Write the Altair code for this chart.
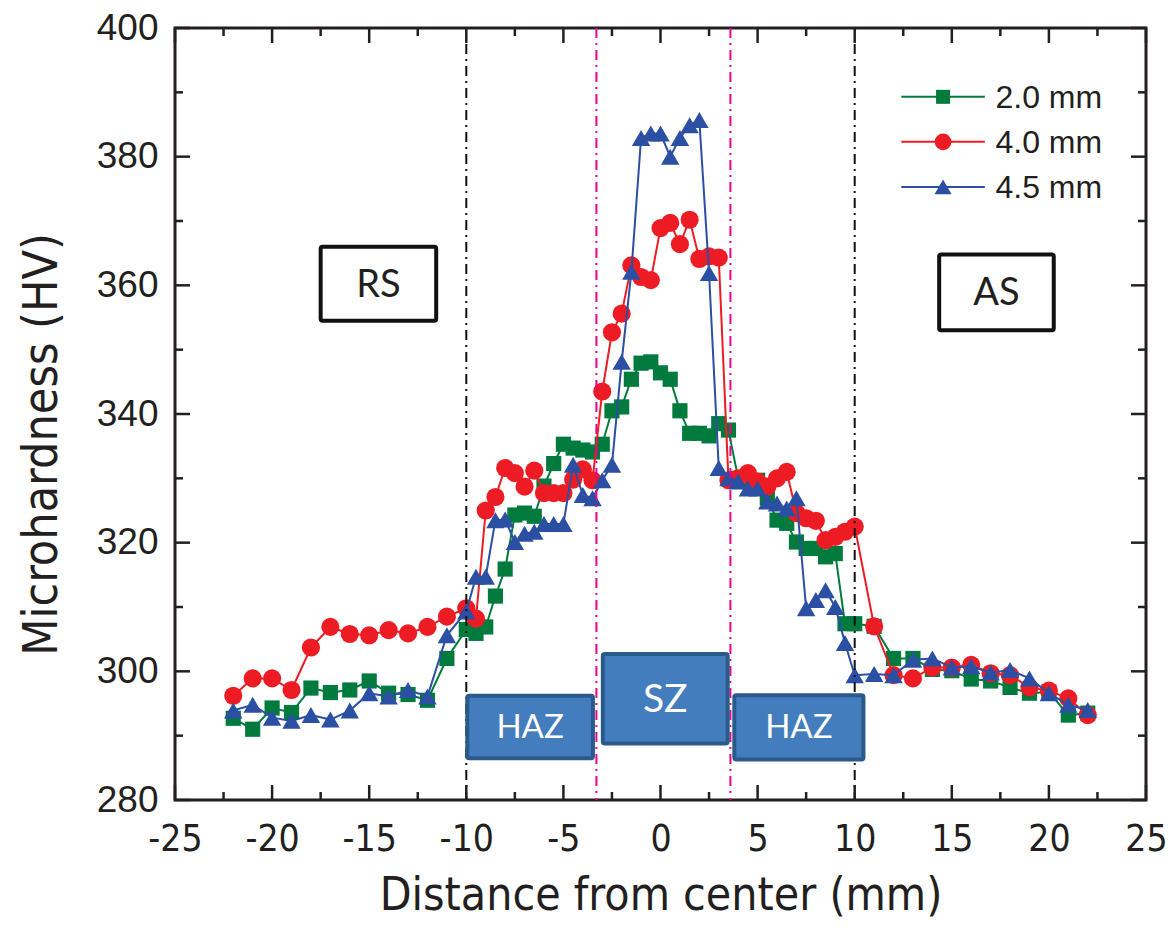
import altair as alt
import pandas as pd

# ---------------- data ----------------
series_names = ["2.0 mm", "4.0 mm", "4.5 mm"]
series_colors = ["#007A3D", "#ED1C24", "#2B4FA2"]
series_shapes = ["square", "circle", "triangle-up"]
series_sizes = [230, 330, 340]

x_outer_left = [-22, -21, -20, -19, -18, -17, -16, -15, -14, -13, -12, -11]
x_center = [-10, -9.5, -9, -8.5, -8, -7.5, -7, -6.5, -6, -5.5, -5, -4.5, -4, -3.5, -3,
            -2.5, -2, -1.5, -1, -0.5, 0, 0.5, 1, 1.5, 2, 2.5, 3, 3.5, 4, 4.5, 5,
            5.5, 6, 6.5, 7, 7.5, 8, 8.5, 9, 9.5, 10]
x_outer_right = [11, 12, 13, 14, 15, 16, 17, 18, 19, 20, 21, 22]
x_all = x_outer_left + x_center + x_outer_right

hv_20 = [292.7, 291.0, 294.3, 293.6, 297.4, 296.7, 297.1, 298.5, 296.6, 296.4, 295.5, 302.0,
         306.5, 305.9, 306.9, 311.7, 315.9, 324.3, 324.6, 324.1, 328.8, 332.3, 335.3, 334.7,
         334.4, 334.1, 335.3, 340.5, 341.1, 345.4, 347.9, 348.1, 346.4, 345.4, 340.5, 337.0,
         337.0, 336.6, 338.5, 337.5, 330.0, 329.5, 329.7, 327.0, 323.5, 323.0, 320.1, 319.1,
         319.1, 317.8, 318.3, 307.4, 307.4,
         307.0, 302.0, 302.0, 300.3, 300.1, 298.8, 298.5, 297.5, 296.6, 296.8, 293.2, 293.5]

hv_40 = [296.2, 298.9, 298.9, 297.1, 303.7, 306.9, 305.8, 305.6, 306.4, 305.9, 306.9, 308.5,
         309.8, 308.2, 325.0, 327.1, 331.6, 330.8, 328.7, 331.2, 327.7, 327.7, 327.7, 329.8,
         331.4, 329.7, 343.5, 352.7, 355.6, 363.1, 361.3, 360.8, 368.9, 369.7, 366.4, 370.2,
         364.1, 364.5, 364.3, 329.7, 330.0, 330.8, 329.5, 328.7, 330.0, 331.0, 324.6, 323.8,
         323.4, 320.4, 320.9, 321.7, 322.5,
         307.0, 299.4, 298.9, 300.6, 300.6, 301.0, 299.7, 299.4, 297.5, 297.0, 295.8, 293.2]

hv_45 = [293.9, 294.8, 292.8, 292.3, 293.2, 292.5, 293.9, 296.6, 296.1, 297.1, 296.1, 305.6,
         309.3, 314.7, 314.7, 323.5, 323.6, 320.1, 321.4, 321.7, 322.9, 322.9, 322.9, 332.1,
         327.4, 326.9, 329.7, 332.1, 348.1, 362.1, 382.9, 383.6, 383.6, 380.0, 382.9, 384.9,
         385.7, 361.9, 331.6, 330.0, 329.5, 328.4, 328.4, 326.4, 326.1, 325.3, 326.9, 309.8,
         311.1, 312.6, 310.0, 304.4, 299.4,
         299.6, 299.4, 301.8, 302.0, 300.6, 300.8, 299.8, 300.2, 298.9, 296.6, 294.8, 294.0]

series_values = [hv_20, hv_40, hv_45]

# zone guide lines
guide_black_x = [-10, 10]
guide_pink_x = [-3.3, 3.6]

# annotation boxes (data coordinates)
box_labels = ["RS", "AS"]
box_x1 = [-17.5, 14.35]
box_x2 = [-11.55, 20.25]
box_y1 = [366.0, 364.8]
box_y2 = [354.5, 353.0]

zone_labels = ["HAZ", "SZ", "HAZ"]
zone_x1 = [-9.95, -2.97, 3.8]
zone_x2 = [-3.48, 3.46, 10.45]
zone_y1 = [296.2, 302.7, 296.3]
zone_y2 = [286.5, 288.8, 286.3]
zone_font = [33, 39, 33]

# legend layout (data coordinates)
legend_line_x1 = 12.4
legend_line_x2 = 16.7
legend_marker_x = 14.55
legend_text_x = 17.25
legend_rows_y = [389.3, 382.3, 375.3]

x_major = [-25, -20, -15, -10, -5, 0, 5, 10, 15, 20, 25]
x_minor = [-22.5, -17.5, -12.5, -7.5, -2.5, 2.5, 7.5, 12.5, 17.5, 22.5]
y_major = [280, 300, 320, 340, 360, 380, 400]
y_minor = [290, 310, 330, 350, 370, 390]

# ---------------- chart ----------------
W, H = 971, 772
NARROW = "Liberation Sans Narrow, Arial Narrow, DejaVu Sans Condensed, sans-serif"
INK = "#231F20"

xs = alt.Scale(domain=[-25, 25], nice=False, zero=False)
ys = alt.Scale(domain=[280, 400], nice=False, zero=False)

x_axis = alt.Axis(values=x_major, labelExpr="'' + datum.value", domain=False, ticks=False,
                  grid=False, labelFont=NARROW, labelFontSize=37, labelColor=INK,
                  labelPadding=21, labelFlush=False, labelOverlap=False, labelBound=False,
                  title="Distance from center (mm)", titleFont=NARROW, titleFontSize=46,
                  titleFontWeight="normal", titleColor=INK, titlePadding=16)
y_axis = alt.Axis(values=y_major, format="d", domain=False, ticks=False, grid=False,
                  labelFont="Liberation Sans, Arial, sans-serif", labelFontSize=37,
                  labelColor=INK, labelPadding=17, labelOverlap=False,
                  labelFlush=False, labelBound=False,
                  title="Microhardness (HV)", titleFont=NARROW, titleFontSize=48,
                  titleFontWeight="normal", titleColor=INK, titlePadding=30, titleY=416)


def X(field):
    return alt.X(field, type="quantitative", scale=xs, axis=x_axis)


def Y(field):
    return alt.Y(field, type="quantitative", scale=ys, axis=y_axis)


layers = []

for name, col, shp, sz, vals in zip(series_names, series_colors, series_shapes,
                                    series_sizes, series_values):
    df = pd.DataFrame({"x": x_all, "y": vals})
    layers.append(alt.Chart(df).mark_line(color=col, strokeWidth=2).encode(
        x=X("x"), y=Y("y"), order="x:Q"))
    layers.append(alt.Chart(df).mark_point(filled=True, color=col, shape=shp, size=sz,
                                           opacity=1, strokeWidth=0).encode(
        x=X("x"), y=Y("y")))

# guide lines
gb = pd.DataFrame({"x": guide_black_x, "y1": [397.5] * 2, "y2": [280] * 2})
layers.append(alt.Chart(gb).mark_rule(color="#111111", strokeWidth=2,
                                      strokeDash=[10, 5, 2, 5]).encode(
    x=X("x"), y=Y("y1"), y2="y2:Q"))
gp = pd.DataFrame({"x": guide_pink_x, "y1": [400] * 2, "y2": [280] * 2})
layers.append(alt.Chart(gp).mark_rule(color="#EC008C", strokeWidth=2,
                                      strokeDash=[10, 5, 2, 5]).encode(
    x=X("x"), y=Y("y1"), y2="y2:Q"))

# RS / AS boxes
bdf = pd.DataFrame({"label": box_labels, "x1": box_x1, "x2": box_x2, "y1": box_y1, "y2": box_y2})
bdf["xm"] = (bdf.x1 + bdf.x2) / 2
bdf["ym"] = (bdf.y1 + bdf.y2) / 2
layers.append(alt.Chart(bdf).mark_rect(fill="white", stroke="#111111", strokeWidth=4,
                                       cornerRadius=2).encode(
    x=X("x1"), x2="x2:Q", y=Y("y1"), y2="y2:Q"))
layers.append(alt.Chart(bdf).mark_text(font="Lato, Open Sans, sans-serif", fontSize=38,
                                       color=INK, baseline="middle", align="center",
                                       dy=2).encode(
    x=X("xm"), y=Y("ym"), text="label:N"))

# HAZ / SZ boxes
zdf = pd.DataFrame({"label": zone_labels, "x1": zone_x1, "x2": zone_x2,
                    "y1": zone_y1, "y2": zone_y2, "fs": zone_font})
zdf["xm"] = (zdf.x1 + zdf.x2) / 2
zdf["ym"] = (zdf.y1 + zdf.y2) / 2
layers.append(alt.Chart(zdf).mark_rect(fill="#437DBD", stroke="#2A5A8C", strokeWidth=4,
                                       cornerRadius=2).encode(
    x=X("x1"), x2="x2:Q", y=Y("y1"), y2="y2:Q"))
for fs in sorted(set(zone_font)):
    sub = zdf[zdf.fs == fs]
    layers.append(alt.Chart(sub).mark_text(font="Lato, Open Sans, sans-serif", fontSize=fs,
                                           color="white", baseline="middle",
                                           align="center", dy=1).encode(
        x=X("xm"), y=Y("ym"), text="label:N"))

# legend
ldf = pd.DataFrame({"name": series_names, "y": legend_rows_y,
                    "x1": [legend_line_x1] * 3, "x2": [legend_line_x2] * 3,
                    "xm": [legend_marker_x] * 3, "xt": [legend_text_x] * 3})
for i, (name, col, shp, sz) in enumerate(zip(series_names, series_colors, series_shapes,
                                             series_sizes)):
    row = ldf.iloc[[i]]
    layers.append(alt.Chart(row).mark_rule(color=col, strokeWidth=2).encode(
        x=X("x1"), x2="x2:Q", y=Y("y")))
    layers.append(alt.Chart(row).mark_point(filled=True, color=col, shape=shp,
                                            size=sz * 0.85, opacity=1, strokeWidth=0).encode(
        x=X("xm"), y=Y("y")))
layers.append(alt.Chart(ldf).mark_text(font="Liberation Sans, Arial, sans-serif",
                                       fontSize=32, color=INK, align="left",
                                       baseline="middle", dy=1).encode(
    x=X("xt"), y=Y("y"), text="name:N"))


# inward ticks on all four sides
def xticks(vals, length):
    d = pd.DataFrame({"v": vals})
    bottom = alt.Chart(d).mark_rule(color=INK, strokeWidth=2.5).encode(
        x=X("v"), y=alt.value(H), y2=alt.value(H - length))
    top = alt.Chart(d).mark_rule(color=INK, strokeWidth=2.5).encode(
        x=X("v"), y=alt.value(0), y2=alt.value(length))
    return [bottom, top]


def yticks(vals, length):
    d = pd.DataFrame({"v": vals})
    left = alt.Chart(d).mark_rule(color=INK, strokeWidth=2.5).encode(
        y=Y("v"), x=alt.value(0), x2=alt.value(length))
    right = alt.Chart(d).mark_rule(color=INK, strokeWidth=2.5).encode(
        y=Y("v"), x=alt.value(W), x2=alt.value(W - length))
    return [left, right]


layers += xticks(x_major, 15) + xticks(x_minor, 8) + yticks(y_major, 15) + yticks(y_minor, 8)

chart = alt.layer(*layers).properties(
    width=W, height=H,
    background="white",
    autosize=alt.AutoSizeParams(type="none"),
    padding={"left": 167, "top": 20, "right": 21, "bottom": 123},
).configure_view(stroke=INK, strokeWidth=3)

chart.save("out.html", embed_options={"renderer": "svg", "actions": False})
